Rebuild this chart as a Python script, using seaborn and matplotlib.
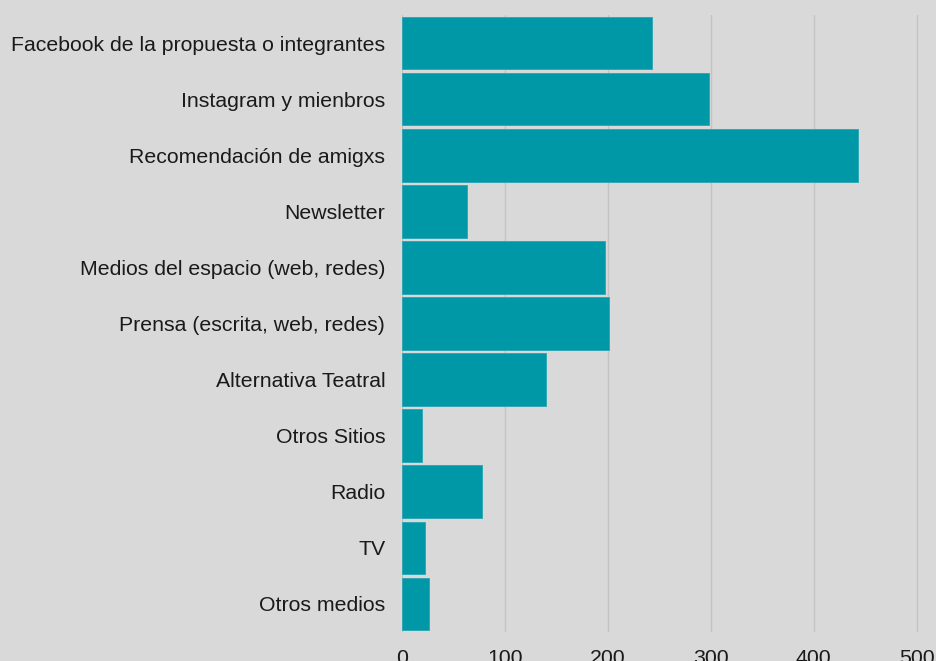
import pandas as pd
import matplotlib.pyplot as plt
import seaborn as sns

# Data
categories = [
    "Facebook de la propuesta o integrantes",
    "Instagram y mienbros",
    "Recomendación de amigxs",
    "Newsletter",
    "Medios del espacio (web, redes)",
    "Prensa (escrita, web, redes)",
    "Alternativa Teatral",
    "Otros Sitios",
    "Radio",
    "TV",
    "Otros medios",
]
values = [243, 298, 443, 63, 197, 201, 140, 19, 78, 22, 26]
x_ticks = [0, 100, 200, 300, 400, 500]

df = pd.DataFrame({"Medio": categories, "Cantidad": values})

sns.set_style("whitegrid")
plt.rcParams['font.family'] = ['Liberation Sans', 'DejaVu Sans']

bg = "#D9D9D9"
fig = plt.figure(figsize=(9.36, 6.61), dpi=100, facecolor=bg)
# axes runs past the right edge, as in the reference
ax = fig.add_axes([402 / 936, 29 / 661, 566 / 936, 617 / 661])
ax.set_facecolor(bg)

sns.barplot(data=df, y="Medio", x="Cantidad", color="#0097A7", saturation=1,
            width=0.94, ax=ax, edgecolor="#2aa5b2", linewidth=0.6)
for p in ax.patches:
    p.set_joinstyle("round")

ax.set_xlim(0, 550)
ax.set_xticks(x_ticks)
ax.set_xlabel("")
ax.set_ylabel("")
ax.grid(axis="x", color="#C4C4C4", linewidth=1)
ax.grid(axis="y", visible=False)
ax.set_axisbelow(True)
for s in ax.spines.values():
    s.set_visible(False)
ax.tick_params(axis="y", length=0, pad=12, labelsize=15.3, labelcolor="#1a1a1a")
ax.tick_params(axis="x", length=0, pad=12, labelsize=15.3, labelcolor="#1a1a1a")

fig.savefig("out.png", dpi=100, facecolor=bg)
